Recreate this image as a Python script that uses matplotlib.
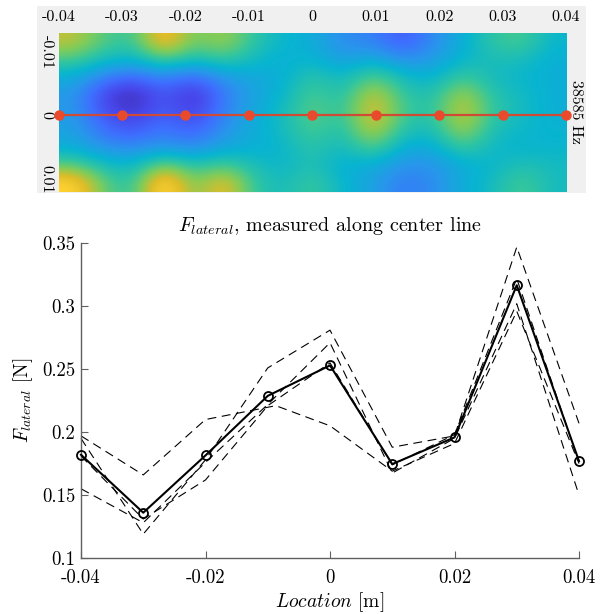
import numpy as np
import matplotlib
matplotlib.use('Agg')
import matplotlib.pyplot as plt
from matplotlib.colors import LinearSegmentedColormap
from matplotlib.patches import Rectangle

plt.rcParams['font.family'] = 'serif'
plt.rcParams['font.serif'] = ['cmr10']
plt.rcParams['mathtext.fontset'] = 'cm'
plt.rcParams['axes.unicode_minus'] = False
plt.rcParams['axes.formatter.use_mathtext'] = True

# measurement positions along center line [m]
locations = [-0.04, -0.03, -0.02, -0.01, 0.0, 0.01, 0.02, 0.03, 0.04]

# mean lateral force [N]
force_mean = [0.182, 0.136, 0.1815, 0.2288, 0.253, 0.1746, 0.1958, 0.3167, 0.177]

# individual runs (dashed)
run1_x = [-0.04, -0.03, -0.02, -0.0087, 0.0, 0.01, 0.02, 0.03, 0.04]
run1_y = [0.197, 0.166, 0.210, 0.221, 0.205, 0.169, 0.191, 0.296, 0.175]
run2_y = [0.195, 0.119, 0.178, 0.251, 0.281, 0.188, 0.197, 0.347, 0.207]
run3_y = [0.155, 0.128, 0.176, 0.222, 0.271, 0.1675, 0.195, 0.302, 0.150]
run4_y = [0.181, 0.131, 0.162, 0.221, 0.255, 0.174, 0.198, 0.322, 0.176]

# field map (normalised), rows top -> bottom, cols x = -0.04 .. 0.04 step 0.005
field = [
    [0.75, 0.60, 0.55, 0.90, 0.62, 0.72, 0.55, 0.45, 0.42, 0.30, 0.28, 0.15, 0.30, 0.42, 0.55, 0.60, 0.45],
    [0.60, 0.50, 0.45, 0.62, 0.50, 0.58, 0.48, 0.42, 0.45, 0.35, 0.42, 0.30, 0.35, 0.45, 0.50, 0.50, 0.42],
    [0.42, 0.28, 0.20, 0.30, 0.20, 0.35, 0.40, 0.42, 0.55, 0.45, 0.62, 0.48, 0.42, 0.58, 0.48, 0.45, 0.42],
    [0.35, 0.10, 0.00, 0.18, 0.03, 0.25, 0.38, 0.45, 0.60, 0.50, 0.78, 0.55, 0.50, 0.74, 0.52, 0.48, 0.42],
    [0.35, 0.14, 0.05, 0.20, 0.07, 0.28, 0.40, 0.48, 0.64, 0.52, 0.84, 0.58, 0.52, 0.80, 0.55, 0.48, 0.42],
    [0.38, 0.22, 0.15, 0.26, 0.17, 0.32, 0.42, 0.48, 0.60, 0.50, 0.78, 0.52, 0.48, 0.74, 0.50, 0.46, 0.44],
    [0.42, 0.32, 0.30, 0.35, 0.30, 0.40, 0.42, 0.45, 0.55, 0.46, 0.62, 0.42, 0.40, 0.58, 0.46, 0.44, 0.45],
    [0.62, 0.50, 0.45, 0.68, 0.52, 0.60, 0.50, 0.45, 0.52, 0.42, 0.42, 0.32, 0.32, 0.42, 0.45, 0.52, 0.48],
    [0.92, 0.62, 0.52, 1.00, 0.62, 0.85, 0.55, 0.48, 0.58, 0.45, 0.38, 0.25, 0.30, 0.42, 0.48, 0.60, 0.48],
]

top_xticks = [-0.04, -0.03, -0.02, -0.01, 0, 0.01, 0.02, 0.03, 0.04]
top_xlabels = ['-0.04', '-0.03', '-0.02', '-0.01', '0', '0.01', '0.02', '0.03', '0.04']
top_yticks = [-0.01, 0, 0.01]
top_ylabels = ['-0.01', '0', '0.01']

bot_xticks = [-0.04, -0.02, 0, 0.02, 0.04]
bot_xlabels = ['-0.04', '-0.02', '0', '0.02', '0.04']
bot_yticks = [0.1, 0.15, 0.2, 0.25, 0.3, 0.35]
bot_ylabels = ['0.1', '0.15', '0.2', '0.25', '0.3', '0.35']

parula = LinearSegmentedColormap.from_list('parula', [
    (0.2422, 0.1504, 0.6603), (0.2803, 0.2782, 0.9221), (0.2440, 0.4358, 0.9988),
    (0.1540, 0.5902, 0.9218), (0.0297, 0.7082, 0.8163), (0.1938, 0.7758, 0.6251),
    (0.5044, 0.7993, 0.3480), (0.8634, 0.7406, 0.1596), (0.9892, 0.8136, 0.1885),
    (0.9769, 0.9839, 0.0805)])

W, H = 611, 614
fig = plt.figure(figsize=(W / 100, H / 100), dpi=100)

# grey panel behind the field map
fig.patches.append(Rectangle((37 / W, 1 - 193 / H), (586 - 37) / W, (193 - 6) / H,
                             transform=fig.transFigure, facecolor='#f0f0f0',
                             edgecolor='none', zorder=-5))

ax1 = fig.add_axes([58.6 / W, 1 - 192 / H, (566 - 58.6) / W, (192 - 32.5) / H])
ax1.set_zorder(2)
ax1.imshow(np.array(field), cmap=parula, vmin=0, vmax=1, aspect='auto',
           interpolation='bicubic', extent=[-0.04, 0.04, 0.012, -0.013])
ax1.plot(locations, np.zeros(len(locations)), color='#cf4b35', lw=1.6, zorder=3)
ax1.plot(locations, np.zeros(len(locations)), 'o', color='#ea4a2c', ms=6.5, zorder=4,
         clip_on=False)
ax1.set_xlim(-0.04, 0.04)
ax1.set_ylim(0.012, -0.013)
ax1.xaxis.tick_top()
ax1.set_xticks(top_xticks)
ax1.set_xticklabels(top_xlabels, fontsize=11.5)
ax1.set_yticks(top_yticks)
ax1.set_yticklabels(top_ylabels, fontsize=11.5, rotation=270, va='center')
ax1.tick_params(length=0, pad=6)
ax1.tick_params(axis='y', pad=4)
for s in ax1.spines.values():
    s.set_visible(False)
ax1.text(1.0197, 0.5, '38585 Hz', transform=ax1.transAxes, rotation=270,
         ha='center', va='center', fontsize=11.5)

# lateral force along center line
ax2 = fig.add_axes([81 / W, 1 - 558 / H, (579 - 81) / W, (558 - 243.3) / H])
ax2.set_zorder(2)
for ry, rx in [(run1_y, run1_x), (run2_y, locations), (run3_y, locations), (run4_y, locations)]:
    ax2.plot(rx, ry, color='black', lw=0.8, dashes=(8, 5), clip_on=False)
ax2.plot(locations, force_mean, color='black', lw=1.5, marker='o', ms=6.5,
         mfc='none', mew=1.3, clip_on=False, zorder=5)
ax2.set_xlim(-0.04, 0.04)
ax2.set_ylim(0.1, 0.35)
ax2.set_xticks(bot_xticks)
ax2.set_xticklabels(bot_xlabels, fontsize=13.5)
ax2.set_yticks(bot_yticks)
ax2.set_yticklabels(bot_ylabels, fontsize=13.5)
ax2.tick_params(direction='in', length=5, width=0.8, color='#606060', pad=4)
ax2.tick_params(axis='x', pad=8)
ax2.spines['top'].set_visible(False)
ax2.spines['right'].set_visible(False)
for s in ['left', 'bottom']:
    ax2.spines[s].set_color('#606060')
    ax2.spines[s].set_linewidth(1.0)
ax2.set_title(r'$F_{lateral}$, measured along center line', fontsize=14.5, pad=9)
ax2.set_xlabel(r'$Location$ [m]', fontsize=14, labelpad=2)
ax2.set_ylabel(r'$F_{lateral}$ [N]', fontsize=14, labelpad=5)

fig.savefig('out.png', dpi=100)
